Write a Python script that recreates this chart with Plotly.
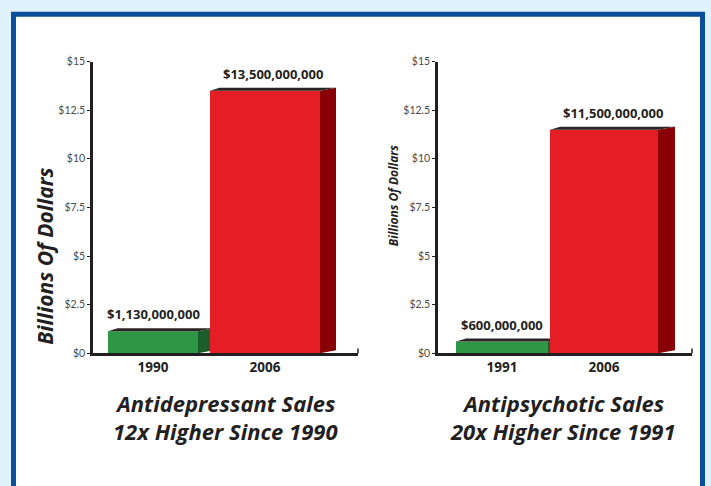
import plotly.graph_objects as go

# ---------------- data ----------------
left_categories = ["1990", "2006"]
left_values = [1.13, 13.5]          # billions of dollars
left_labels = ["$1,130,000,000", "$13,500,000,000"]

right_categories = ["1991", "2006"]
right_values = [0.6, 11.5]
right_labels = ["$600,000,000", "$11,500,000,000"]

y_tickvals = [0, 2.5, 5, 7.5, 10, 12.5, 15]
y_ticktext = ["$0", "$2.5", "$5", "$7.5", "$10", "$12.5", "$15"]

left_title = ["Antidepressant Sales", "12x Higher Since 1990"]
right_title = ["Antipsychotic Sales", "20x Higher Since 1991"]
axis_title = "Billions Of Dollars"

# ---------------- styling / layout ----------------
W, H = 711, 486
BG = "#DFF1FA"
BLUE = "#0B4E9B"
INK = "#231F20"
FRONT = ["#2E9746", "#E51E25"]
SIDE = ["#1B5E2C", "#8A0007"]
TOP = "#2A2424"
LABEL_SHIFT = [0.0, 0.5]   # value-label offset, as a fraction of the bar depth
BOLD_FONT = "Open Sans"

def px_x(p):
    return p / W

def px_y(p):
    return (H - p) / H

Y0_PX, Y15_PX = 356, 57
ydomain = [px_y(Y0_PX), px_y(Y15_PX)]
y_unit_px = (353 - 61) / 15.0

charts = [
    dict(cats=left_categories, vals=left_values, labels=left_labels,
         ax_px=(93, 358), centers_px=(153, 265), widths_px=(90, 110), depth_px=16,
         xa="x", ya="y", xname="xaxis", yname="yaxis"),
    dict(cats=right_categories, vals=right_values, labels=right_labels,
         ax_px=(438, 692), centers_px=(502, 604), widths_px=(92, 108), depth_px=17,
         xa="x2", ya="y2", xname="xaxis2", yname="yaxis2"),
]

fig = go.Figure()
annotations = []
shapes = [
    dict(type="rect", xref="paper", yref="paper",
         x0=px_x(13.5), x1=px_x(702.5), y0=px_y(8.5), y1=-0.2,
         fillcolor="white", line=dict(color=BLUE, width=5), layer="below"),
]
layout_axes = {}

for c in charts:
    unit = c["centers_px"][1] - c["centers_px"][0]
    c0 = c["centers_px"][0]
    xr = [(c["ax_px"][0] - c0) / unit, (c["ax_px"][1] - c0) / unit]
    dx = c["depth_px"] / unit
    dy = 3.0 / y_unit_px
    for i, (cat, v, lab) in enumerate(zip(c["cats"], c["vals"], c["labels"])):
        w = c["widths_px"][i] / unit
        L, R = i - w / 2, i + w / 2
        # front face
        fig.add_trace(go.Scatter(x=[L, R, R, L, L], y=[0, 0, v, v, 0], fill="toself",
                                 fillcolor=FRONT[i], mode="lines", line=dict(width=0),
                                 xaxis=c["xa"], yaxis=c["ya"], hoverinfo="skip",
                                 showlegend=False))
        # side face
        fig.add_trace(go.Scatter(x=[R, R + dx, R + dx, R, R], y=[0, dy, v + dy, v, 0],
                                 fill="toself", fillcolor=SIDE[i], mode="lines",
                                 line=dict(width=0), xaxis=c["xa"], yaxis=c["ya"],
                                 hoverinfo="skip", showlegend=False))
        # top face
        fig.add_trace(go.Scatter(x=[L, L + dx * 0.6, R + dx, R, L], y=[v, v + dy, v + dy, v, v],
                                 fill="toself", fillcolor=TOP, mode="lines",
                                 line=dict(width=0), xaxis=c["xa"], yaxis=c["ya"],
                                 hoverinfo="skip", showlegend=False))
        annotations.append(dict(x=i + dx * LABEL_SHIFT[i], y=v + dy, xref=c["xa"], yref=c["ya"],
                                text=lab, showarrow=False, xanchor="center",
                                yanchor="bottom", yshift=3,
                                font=dict(family=BOLD_FONT, size=13, color=INK, weight="bold")))
    layout_axes[c["xname"]] = dict(
        domain=[px_x(c["ax_px"][0]), px_x(c["ax_px"][1])], range=xr,
        tickvals=[0, 1], ticktext=c["cats"], showgrid=False, zeroline=False,
        showline=True, linecolor=INK, linewidth=2.5, ticks="",
        tickfont=dict(family=BOLD_FONT, size=13.5, color=INK, weight="bold"),
        anchor=c["ya"], fixedrange=True)
    layout_axes[c["yname"]] = dict(
        domain=ydomain, range=[0, 15], tickvals=y_tickvals, ticktext=y_ticktext,
        showgrid=False, zeroline=False, showline=True, linecolor=INK, linewidth=2.5,
        ticks="outside", ticklen=3, tickcolor=INK, tickwidth=1,
        tickfont=dict(family="Lato", size=10.5, color="#4A4A4A"),
        anchor=c["xa"], fixedrange=True)
    # small end tick at right end of the x axis line
    shapes.append(dict(type="line", xref=c["xa"] + " domain", yref=c["ya"] + " domain",
                       x0=1, x1=1, y0=0, y1=0.016, line=dict(color=INK, width=1.5)))

# axis titles
annotations.append(dict(x=px_x(45), y=px_y(257), xref="paper", yref="paper",
                        xanchor="center", yanchor="middle",
                        text=axis_title, textangle=-90, showarrow=False,
                        font=dict(family=BOLD_FONT, size=21, color=INK, weight="bold",
                                  style="italic")))
annotations.append(dict(x=px_x(393), y=px_y(194), xref="paper", yref="paper",
                        xanchor="center", yanchor="middle",
                        text=axis_title, textangle=-90, showarrow=False,
                        font=dict(family=BOLD_FONT, size=12, color=INK, weight="bold",
                                  style="italic")))

# chart titles
for cx, lines in [(225, left_title), (563, right_title)]:
    for ly, line in zip((407, 436), lines):
        annotations.append(dict(x=px_x(cx), y=px_y(ly), xref="paper", yref="paper",
                                xanchor="center", yanchor="middle",
                                text=line, showarrow=False,
                                font=dict(family=BOLD_FONT, size=22, color=INK,
                                          weight="bold", style="italic")))

fig.update_layout(
    width=W, height=H, margin=dict(l=0, r=0, t=0, b=0),
    paper_bgcolor=BG, plot_bgcolor="rgba(0,0,0,0)",
    annotations=annotations, shapes=shapes, showlegend=False,
    **layout_axes,
)

fig.write_html("out.html", config={"displayModeBar": False},
               post_script="document.body.style.margin='0';document.body.style.overflow='hidden';")
